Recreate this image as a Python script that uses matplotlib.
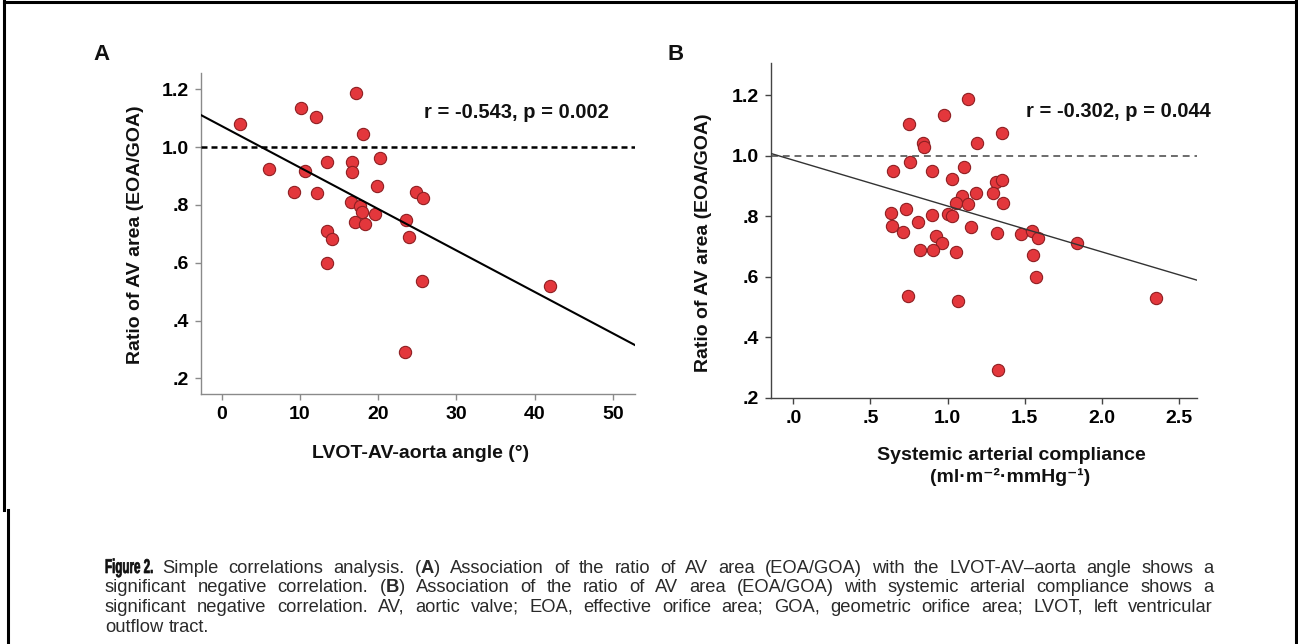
import matplotlib
matplotlib.use('Agg')
import matplotlib.pyplot as plt
import matplotlib.transforms as mtransforms
from matplotlib.lines import Line2D
from matplotlib.textpath import TextPath
from matplotlib.patches import PathPatch
from matplotlib.font_manager import FontProperties

plt.rcParams['font.family'] = ['Liberation Sans', 'DejaVu Sans']
plt.rcParams['mathtext.fontset'] = 'custom'
plt.rcParams['mathtext.rm'] = 'Liberation Sans'
plt.rcParams['mathtext.bf'] = 'Liberation Sans:bold'
plt.rcParams['mathtext.default'] = 'regular'

# Panel A: LVOT-AV-aorta angle vs EOA/GOA ratio
a_angle = [2.3, 6.0, 10.2, 12.1, 10.7, 9.3, 12.2, 13.4, 13.4, 14.1, 13.4, 17.2, 18.1, 16.7, 16.6,
           20.3, 19.9, 16.5, 17.7, 18.0, 17.0, 18.3, 19.6, 23.6, 24.0, 24.8, 25.7, 25.6, 23.5, 42.0]
a_ratio = [1.078, 0.923, 1.134, 1.103, 0.918, 0.844, 0.840, 0.950, 0.711, 0.681, 0.598, 1.186, 1.044, 0.950, 0.915,
           0.961, 0.866, 0.809, 0.796, 0.774, 0.742, 0.734, 0.767, 0.748, 0.690, 0.846, 0.823, 0.537, 0.290, 0.518]
a_fit = (1.0725, -0.01433)  # intercept, slope
a_stats = 'r = -0.543, p = 0.002'

# Panel B: systemic arterial compliance vs EOA/GOA ratio
b_sac = [1.131, 0.977, 0.752, 0.843, 0.848, 1.355, 1.193, 0.757, 0.649, 0.901, 1.109, 1.031, 1.315, 1.355, 1.293,
         1.362, 1.183, 1.096, 1.055, 1.135, 0.634, 0.731, 0.897, 1.005, 1.027, 0.640, 0.713, 0.811, 1.152, 1.319,
         0.925, 0.962, 0.822, 0.904, 1.055, 0.746, 1.070, 1.329, 1.475, 1.546, 1.589, 1.552, 1.574, 1.842, 2.352]
b_ratio = [1.186, 1.135, 1.103, 1.043, 1.030, 1.076, 1.041, 0.980, 0.949, 0.950, 0.962, 0.923, 0.914, 0.920, 0.878,
           0.845, 0.876, 0.865, 0.845, 0.841, 0.810, 0.823, 0.804, 0.808, 0.799, 0.769, 0.747, 0.779, 0.764, 0.744,
           0.735, 0.711, 0.689, 0.689, 0.683, 0.537, 0.521, 0.293, 0.741, 0.752, 0.727, 0.670, 0.599, 0.711, 0.530]
b_fit = (0.985, -0.1515)
b_stats = 'r = -0.302, p = 0.044'

ref_ratio = 1.0
y_ticks = [0.2, 0.4, 0.6, 0.8, 1.0, 1.2]
y_tick_labels = ['.2', '.4', '.6', '.8', '1.0', '1.2']
a_x_ticks = [0, 10, 20, 30, 40, 50]
a_x_tick_labels = ['0', '10', '20', '30', '40', '50']
b_x_ticks = [0.0, 0.5, 1.0, 1.5, 2.0, 2.5]
b_x_tick_labels = ['.0', '.5', '1.0', '1.5', '2.0', '2.5']

ylab = 'Ratio of AV area (EOA/GOA)'
a_xlab = 'LVOT-AV-aorta angle (°)'
b_xlab1 = 'Systemic arterial compliance'
b_xlab2 = '(ml·m\u207b\u00b2·mmHg\u207b\u00b9)'

fig_label = 'Figure 2.'
caption_lines = [
    'Simple correlations analysis. ($\\mathbf{A}$) Association of the ratio of AV area (EOA/GOA) with the LVOT-AV\u2013aorta angle shows a',
    'significant negative correlation. ($\\mathbf{B}$) Association of the ratio of AV area (EOA/GOA) with systemic arterial compliance shows a',
    'significant negative correlation. AV, aortic valve; EOA, effective orifice area; GOA, geometric orifice area; LVOT, left ventricular',
    'outflow tract.',
]

W, H = 1298, 644
fig = plt.figure(figsize=(W / 100, H / 100), dpi=100)


def fx(x):
    return x / W


def fy(y):
    return 1 - y / H


def make_axes(left, top, right, bottom):
    return fig.add_axes([fx(left), fy(bottom), fx(right) - fx(left), fy(top) - fy(bottom)])


def style(ax, col):
    for s in ['top', 'right']:
        ax.spines[s].set_visible(False)
    for s in ['left', 'bottom']:
        ax.spines[s].set_color(col)
        ax.spines[s].set_linewidth(1.0)
    ax.tick_params(direction='out', length=4.5, width=1.0, color=col, labelsize=14, pad=4)


red = '#E3373C'
edge = '#8E1F22'

# ---- panel A
axA = make_axes(200.7, 73.3, 635, 394.3)
axA.set_xlim(-2.69, 52.85)
axA.set_ylim(0.145, 1.255)
axA.scatter(a_angle, a_ratio, s=78, c=red, edgecolors=edge, linewidths=0.8, zorder=2)
axA.axhline(ref_ratio, color='black', lw=1.8, ls=(0, (2.4, 1.6)), zorder=3)
axA.axline((0, a_fit[0]), slope=a_fit[1], color='black', lw=1.5, zorder=4)
axA.set_xticks(a_x_ticks, a_x_tick_labels, fontweight='bold')
axA.set_yticks(y_ticks, y_tick_labels, fontweight='bold')
style(axA, '#8a8a8a')

# ---- panel B
axB = make_axes(771, 63.3, 1197.3, 397.7)
axB.set_xlim(-0.145, 2.62)
axB.set_ylim(0.2, 1.305)
axB.scatter(b_sac, b_ratio, s=78, c=red, edgecolors=edge, linewidths=0.8, zorder=2)
axB.axhline(ref_ratio, color='#444444', lw=1.1, ls=(0, (4.5, 3.2)), zorder=3)
axB.axline((0, b_fit[0]), slope=b_fit[1], color='#333333', lw=1.0, zorder=4)
axB.set_xticks(b_x_ticks, b_x_tick_labels, fontweight='bold')
axB.set_yticks(y_ticks, y_tick_labels, fontweight='bold')
style(axB, '#444444')

# labels
bold = dict(fontweight='bold', color='#111111', ha='center', va='center')
fig.text(fx(102), fy(55), 'A', fontsize=16, **bold)
fig.text(fx(675.5), fy(55), 'B', fontsize=16, **bold)
fig.text(fx(135), fy(235), ylab, fontsize=14, rotation=90, **bold)
fig.text(fx(703), fy(243), ylab, fontsize=14, rotation=90, **bold)
fig.text(fx(421), fy(453), a_xlab, fontsize=14, **bold)
fig.text(fx(1011), fy(455), b_xlab1, fontsize=14, **bold)
fig.text(fx(1010), fy(477), b_xlab2, fontsize=14, **bold)
fig.text(fx(516), fy(112.5), a_stats, fontsize=14.5, **bold)
fig.text(fx(1118.5), fy(111.5), b_stats, fontsize=14.5, **bold)

# frame
for xs, ys in [((4, 4), (0, 510)), ((7.5, 7.5), (510, H)), ((4, 1296), (1.5, 1.5)), ((1296, 1296), (0, H))]:
    fig.add_artist(Line2D([fx(v) for v in xs], [fy(v) for v in ys], color='black', lw=2.2))

# caption: condensed heavy "Figure 2." then justified text
line_y = [573, 592.5, 612, 631.5]
line_x0 = [162, 105, 105, 105]
right_edge = 1213

tp = TextPath((0, 0), fig_label, size=20, prop=FontProperties(family='Liberation Sans', weight='bold'))
tr = mtransforms.Affine2D().scale(0.58, 1).translate(105, H - line_y[0])
fig.add_artist(PathPatch(tp, transform=tr, facecolor='#111111', edgecolor='#111111', lw=0.5))

renderer = fig.canvas.get_renderer()
probe = fig.text(0, 0, caption_lines[2], fontsize=10)
w10 = probe.get_window_extent(renderer).width
probe.remove()
cap_fs = 10 * (right_edge - 105) / w10 * 0.93
cap_col = '#2a2a2a'

space = fig.text(0, 0, 'a a', fontsize=cap_fs)
sp_w = space.get_window_extent(renderer).width
space.set_text('aa')
sp_w -= space.get_window_extent(renderer).width
space.remove()

for i, line in enumerate(caption_lines):
    words = line.split(' ')
    texts = [fig.text(0, fy(line_y[i]), w, fontsize=cap_fs, color=cap_col, va='baseline') for w in words]
    widths = [t.get_window_extent(renderer).width for t in texts]
    if i == len(caption_lines) - 1:
        gap = sp_w
    else:
        gap = max((right_edge - line_x0[i] - sum(widths)) / (len(words) - 1), 0.6 * sp_w)
    x = line_x0[i]
    for t, w in zip(texts, widths):
        t.set_x(fx(x))
        x += w + gap

fig.savefig('out.png', dpi=100)
